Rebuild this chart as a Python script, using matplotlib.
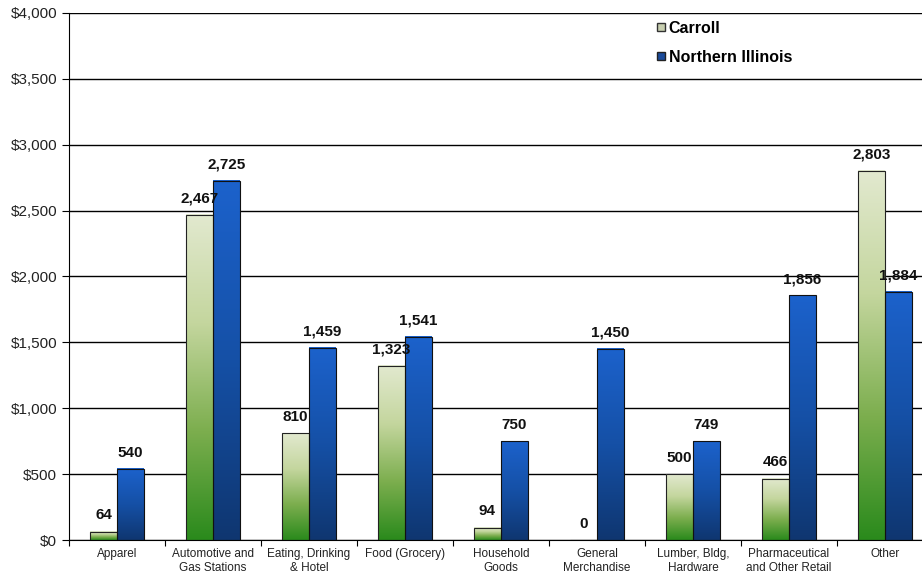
import numpy as np
import matplotlib.pyplot as plt
from matplotlib.colors import LinearSegmentedColormap
from matplotlib.lines import Line2D

plt.rcParams['font.family'] = ['Liberation Sans', 'DejaVu Sans']

categories = ["Apparel", "Automotive and\nGas Stations", "Eating, Drinking\n& Hotel",
              "Food (Grocery)", "Household\nGoods", "General\nMerchandise",
              "Lumber, Bldg,\nHardware", "Pharmaceutical\nand Other Retail", "Other"]
carroll = [64, 2467, 810, 1323, 94, 0, 500, 466, 2803]
northern = [540, 2725, 1459, 1541, 750, 1450, 749, 1856, 1884]
yticks = [0, 500, 1000, 1500, 2000, 2500, 3000, 3500, 4000]

green = LinearSegmentedColormap.from_list("g", ["#2a8a1c", "#7cae4e", "#c4d69e", "#e2e9cf"])
blue = LinearSegmentedColormap.from_list("b", ["#0f3670", "#1550a6", "#1c62cc"])

fig = plt.figure(figsize=(9.22, 5.77), dpi=100)
ax = fig.add_axes([0.0748, 0.0641, 0.937, 0.9134])

x = np.arange(len(categories))
w = 0.28
b1 = ax.bar(x - w / 2, carroll, w, color="none", edgecolor="#222222", linewidth=0.8, zorder=3)
b2 = ax.bar(x + w / 2, northern, w, color="none", edgecolor="#111111", linewidth=0.8, zorder=3)

# per-bar vertical gradient fill
grad = np.linspace(0, 1, 256).reshape(-1, 1)
for bars, cmap in [(b1, green), (b2, blue)]:
    for r in bars:
        h = r.get_height()
        if h <= 0:
            continue
        ax.imshow(grad, cmap=cmap, aspect="auto", origin="lower", zorder=2,
                  extent=[r.get_x(), r.get_x() + r.get_width(), 0, h])

for bars, vals in [(b1, carroll), (b2, northern)]:
    for r, v in zip(bars, vals):
        ax.text(r.get_x() + r.get_width() / 2, v + 70, f"{v:,}", ha="center", va="bottom",
                fontsize=11, fontweight="bold", color="#111111", zorder=4)

ax.set_xlim(-0.5, len(categories) - 0.5)
ax.set_ylim(0, 4000)
ax.set_yticks(yticks)
ax.set_yticklabels([f"${v:,}" for v in yticks], fontsize=11, color="#222222")
ax.yaxis.grid(True, color="black", linewidth=1.0, zorder=1)
ax.set_axisbelow(True)

ax.set_xticks(np.arange(len(categories) + 1) - 0.5)
ax.set_xticklabels([])
ax.set_xticks(x, minor=True)
ax.set_xticklabels(categories, minor=True, fontsize=8.5, color="#222222")
ax.tick_params(axis="x", which="minor", length=0, pad=6)
ax.tick_params(axis="x", which="major", length=4, direction="out")
ax.tick_params(axis="y", length=5, direction="out")

for s in ["top", "right"]:
    ax.spines[s].set_visible(False)
ax.spines["left"].set_color("black")
ax.spines["bottom"].set_color("black")

handles = [Line2D([], [], marker="s", linestyle="none", markersize=6,
                  markerfacecolor="#c8cfb0", markeredgecolor="#333333"),
           Line2D([], [], marker="s", linestyle="none", markersize=6,
                  markerfacecolor="#1a4a9a", markeredgecolor="#222222")]
leg = ax.legend(handles, ["Carroll", "Northern Illinois"], loc="upper left",
                bbox_to_anchor=(0.661, 1.013), frameon=False, labelspacing=0.9,
                handletextpad=0.1, handlelength=0.8,
                prop={"weight": "bold", "size": 11.5})

fig.savefig("out.png", dpi=100)
